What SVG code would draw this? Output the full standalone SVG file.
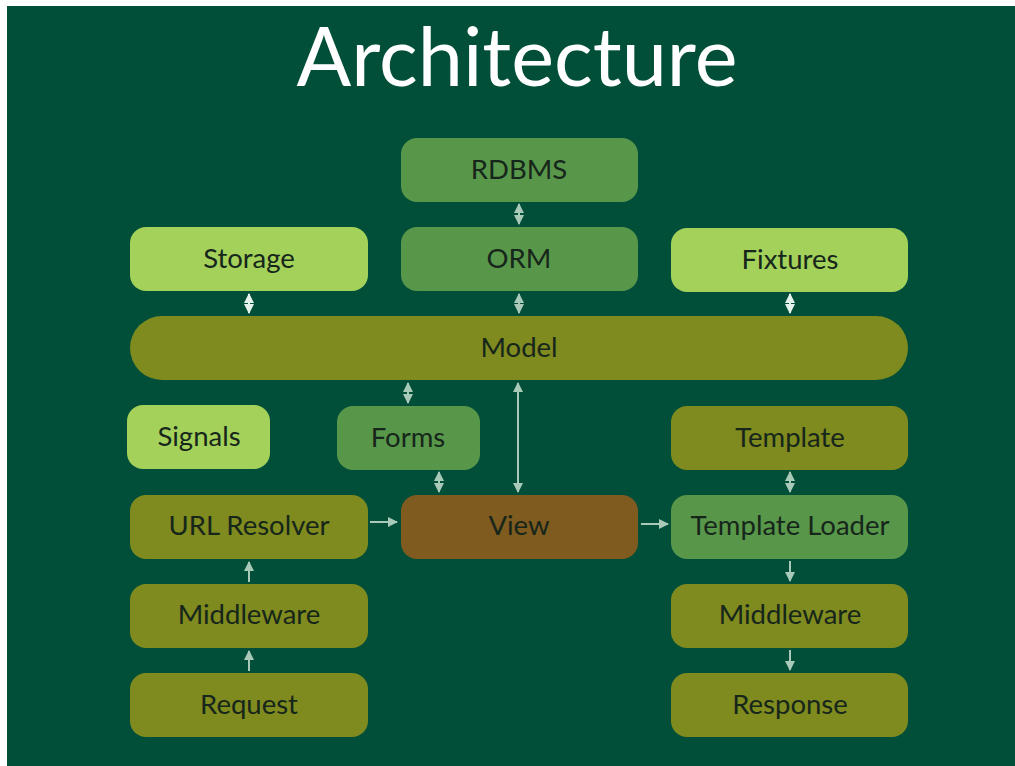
<svg xmlns="http://www.w3.org/2000/svg" width="1015" height="766" viewBox="0 0 1015 766">
<style>
.lt{fill:#a3d15a}
.md{fill:#58964a}
.ol{fill:#7f8a1f}
.br{fill:#7f5b1f}
text{font-family:"Lato","Liberation Sans",sans-serif;font-size:27.5px;fill:#16261a;text-anchor:middle}
.title{font-size:81px;fill:#ffffff}
.c{stroke:#a9c9b9;stroke-width:2;fill:none}
</style>
<defs>
<marker id="ah" viewBox="0 0 10 10" refX="9" refY="5" markerWidth="5" markerHeight="5" orient="auto-start-reverse">
<path d="M0,0 L10,5 L0,10 z" fill="#a9c9b9"/>
</marker>
<marker id="aw" viewBox="0 0 10 10" refX="9" refY="5" markerWidth="5" markerHeight="5" orient="auto-start-reverse">
<path d="M0,0 L10,5 L0,10 z" fill="#e6f2ec"/>
</marker>
</defs>
<rect x="0" y="0" width="1015" height="766" fill="#ffffff"/>
<rect x="7" y="6" width="1008" height="760" fill="#014f39"/>
<text class="title" x="517" y="86">Architecture</text>

<g id="connectors">
<line class="c" x1="519" y1="204" x2="519" y2="224" marker-start="url(#ah)" marker-end="url(#ah)"/>
<line class="c" x1="249" y1="294" x2="249" y2="313" style="stroke:#e6f2ec" marker-start="url(#aw)" marker-end="url(#aw)"/>
<line class="c" x1="519" y1="294" x2="519" y2="313" marker-start="url(#ah)" marker-end="url(#ah)"/>
<line class="c" x1="790" y1="294" x2="790" y2="313" style="stroke:#e6f2ec" marker-start="url(#aw)" marker-end="url(#aw)"/>
<line class="c" x1="408" y1="383" x2="408" y2="403" marker-start="url(#ah)" marker-end="url(#ah)"/>
<line class="c" x1="518" y1="383" x2="518" y2="492" marker-start="url(#ah)" marker-end="url(#ah)"/>
<line class="c" x1="439" y1="472" x2="439" y2="492" marker-start="url(#ah)" marker-end="url(#ah)"/>
<line class="c" x1="370" y1="522" x2="397" y2="522" marker-end="url(#ah)"/>
<line class="c" x1="641" y1="524" x2="668" y2="524" marker-end="url(#ah)"/>
<line class="c" x1="790" y1="472" x2="790" y2="492" marker-start="url(#ah)" marker-end="url(#ah)"/>
<line class="c" x1="790" y1="561" x2="790" y2="581" marker-end="url(#ah)"/>
<line class="c" x1="790" y1="650" x2="790" y2="670" marker-end="url(#ah)"/>
<line class="c" x1="249" y1="671" x2="249" y2="651" marker-end="url(#ah)"/>
<line class="c" x1="249" y1="582" x2="249" y2="562" marker-end="url(#ah)"/>
</g>

<g id="rdbms"><rect class="md" x="401" y="138" width="237" height="64" rx="16"/><text x="519" y="179">RDBMS</text></g>
<g id="storage"><rect class="lt" x="130" y="227" width="238" height="64" rx="16"/><text x="249" y="268">Storage</text></g>
<g id="orm"><rect class="md" x="401" y="227" width="237" height="64" rx="16"/><text x="519" y="268">ORM</text></g>
<g id="fixtures"><rect class="lt" x="671" y="228" width="237" height="64" rx="16"/><text x="790" y="269">Fixtures</text></g>
<g id="model"><rect class="ol" x="130" y="316" width="778" height="64" rx="32"/><text x="519" y="357">Model</text></g>
<g id="signals"><rect class="lt" x="127" y="405" width="143" height="64" rx="16"/><text x="199" y="446">Signals</text></g>
<g id="forms"><rect class="md" x="337" y="406" width="143" height="64" rx="16"/><text x="408" y="447">Forms</text></g>
<g id="template"><rect class="ol" x="671" y="406" width="237" height="64" rx="16"/><text x="790" y="447">Template</text></g>
<g id="url-resolver"><rect class="ol" x="130" y="495" width="238" height="64" rx="16"/><text x="249" y="535">URL Resolver</text></g>
<g id="view"><rect class="br" x="401" y="495" width="237" height="64" rx="16"/><text x="519" y="535">View</text></g>
<g id="template-loader"><rect class="md" x="671" y="495" width="237" height="64" rx="16"/><text x="790" y="535">Template Loader</text></g>
<g id="middleware-left"><rect class="ol" x="130" y="584" width="238" height="64" rx="16"/><text x="249" y="624">Middleware</text></g>
<g id="middleware-right"><rect class="ol" x="671" y="584" width="237" height="64" rx="16"/><text x="790" y="624">Middleware</text></g>
<g id="request"><rect class="ol" x="130" y="673" width="238" height="64" rx="16"/><text x="249" y="714">Request</text></g>
<g id="response"><rect class="ol" x="671" y="673" width="237" height="64" rx="16"/><text x="790" y="714">Response</text></g>
</svg>
